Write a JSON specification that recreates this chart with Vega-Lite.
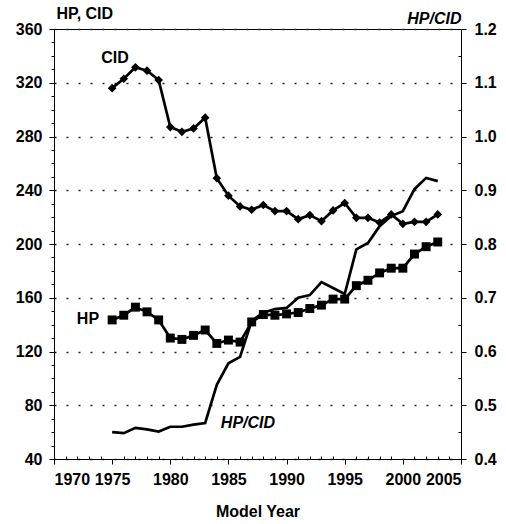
{
  "$schema": "https://vega.github.io/schema/vega-lite/v6.json",
  "width": 407,
  "height": 430,
  "autosize": "none",
  "padding": {"left": 54, "top": 29, "right": 45, "bottom": 65},
  "background": "white",
  "config": {
    "view": {"stroke": "black", "strokeWidth": 1},
    "font": "Liberation Sans",
    "axis": {"domainColor": "black", "tickColor": "black", "labelColor": "black", "titleColor": "black", "labelFont": "Liberation Sans", "titleFont": "Liberation Sans", "labelFontWeight": "bold", "titleFontWeight": "bold", "labelFontSize": 16, "titleFontSize": 16}
  },
  "datasets": {
    "series": [
      {"year": 1975, "CID": 316, "HP": 143.5, "ratio": 0.45},
      {"year": 1976, "CID": 323, "HP": 147, "ratio": 0.448},
      {"year": 1977, "CID": 331.5, "HP": 153, "ratio": 0.458},
      {"year": 1978, "CID": 329, "HP": 149.5, "ratio": 0.455},
      {"year": 1979, "CID": 322, "HP": 143.5, "ratio": 0.451},
      {"year": 1980, "CID": 287, "HP": 130, "ratio": 0.46},
      {"year": 1981, "CID": 283.5, "HP": 129, "ratio": 0.46},
      {"year": 1982, "CID": 286, "HP": 132, "ratio": 0.464},
      {"year": 1983, "CID": 294, "HP": 136, "ratio": 0.467},
      {"year": 1984, "CID": 249, "HP": 126, "ratio": 0.538},
      {"year": 1985, "CID": 236, "HP": 128.5, "ratio": 0.578},
      {"year": 1986, "CID": 228, "HP": 127, "ratio": 0.59},
      {"year": 1987, "CID": 225.5, "HP": 142, "ratio": 0.657},
      {"year": 1988, "CID": 229, "HP": 147.5, "ratio": 0.672},
      {"year": 1989, "CID": 224.5, "HP": 147, "ratio": 0.679},
      {"year": 1990, "CID": 224.5, "HP": 148, "ratio": 0.681},
      {"year": 1991, "CID": 218.5, "HP": 149, "ratio": 0.7},
      {"year": 1992, "CID": 221.5, "HP": 152, "ratio": 0.705},
      {"year": 1993, "CID": 217, "HP": 154.5, "ratio": 0.729},
      {"year": 1994, "CID": 225, "HP": 159, "ratio": 0.718},
      {"year": 1995, "CID": 230.5, "HP": 159, "ratio": 0.707},
      {"year": 1996, "CID": 219.5, "HP": 169, "ratio": 0.79},
      {"year": 1997, "CID": 219.5, "HP": 173, "ratio": 0.802},
      {"year": 1998, "CID": 216, "HP": 178.5, "ratio": 0.833},
      {"year": 1999, "CID": 222, "HP": 182, "ratio": 0.852},
      {"year": 2000, "CID": 215, "HP": 182, "ratio": 0.861},
      {"year": 2001, "CID": 216.5, "HP": 192.5, "ratio": 0.902},
      {"year": 2002, "CID": 216.5, "HP": 198, "ratio": 0.923},
      {"year": 2003, "CID": 222, "HP": 201.5, "ratio": 0.917}
    ],
    "labels": [
      {"label": "CID", "year": 1975.24, "value": 338.4},
      {"label": "HP", "year": 1972.92, "value": 144.2}
    ],
    "italicLabels": [
      {"label": "HP/CID", "year": 1986.68, "value": 66.8}
    ]
  },
  "data": {"name": "series"},
  "resolve": {"scale": {"y": "independent", "x": "independent"}, "axis": {"y": "independent", "x": "independent"}},
  "layer": [
    {
      "mark": {"type": "line", "color": "black", "strokeWidth": 2.7},
      "encoding": {
        "x": {"field": "year", "type": "quantitative", "scale": {"domain": [1970, 2005], "nice": false, "zero": false},
          "axis": {"orient": "bottom", "values": [1970, 1975, 1980, 1985, 1990, 1995, 2000, 2005], "format": "d", "tickSize": 5, "labelPadding": 7, "title": "Model Year", "titleFontSize": 16, "titlePadding": 16, "grid": false, "domain": true}},
        "y": {"field": "CID", "type": "quantitative", "scale": {"domain": [40, 360], "nice": false, "zero": false},
          "axis": {"orient": "left", "values": [40, 80, 120, 160, 200, 240, 280, 320, 360], "tickSize": 5, "labelPadding": 7, "grid": true, "gridDash": [2, 10], "gridColor": "#222", "gridWidth": 1.3, "title": "HP, CID", "titleAngle": 0, "titleAlign": "left", "titleBaseline": "alphabetic", "titleX": 2, "titleY": -11}}
      }
    },
    {
      "mark": {"type": "point", "shape": "diamond", "filled": true, "color": "black", "size": 75, "opacity": 1},
      "encoding": {
        "x": {"field": "year", "type": "quantitative", "scale": {"domain": [1970, 2005], "nice": false, "zero": false},
          "axis": {"orient": "bottom", "values": [1971, 1972, 1973, 1974, 1976, 1977, 1978, 1979, 1981, 1982, 1983, 1984, 1986, 1987, 1988, 1989, 1991, 1992, 1993, 1994, 1996, 1997, 1998, 1999, 2001, 2002, 2003, 2004], "tickSize": -3, "labels": false, "domain": false, "grid": false, "title": null}},
        "y": {"field": "CID", "type": "quantitative", "scale": {"domain": [40, 360], "nice": false, "zero": false},
          "axis": {"orient": "left", "values": [50, 60, 70, 90, 100, 110, 130, 140, 150, 170, 180, 190, 210, 220, 230, 250, 260, 270, 290, 300, 310, 330, 340, 350], "tickSize": 3, "labels": false, "domain": false, "grid": false, "title": null}}
      }
    },
    {
      "mark": {"type": "line", "color": "black", "strokeWidth": 2.7},
      "encoding": {
        "x": {"field": "year", "type": "quantitative", "scale": {"domain": [1970, 2005], "nice": false, "zero": false}, "axis": null},
        "y": {"field": "HP", "type": "quantitative", "scale": {"domain": [40, 360], "nice": false, "zero": false}, "axis": null}
      }
    },
    {
      "mark": {"type": "point", "shape": "square", "filled": true, "color": "black", "size": 80, "opacity": 1},
      "encoding": {
        "x": {"field": "year", "type": "quantitative", "scale": {"domain": [1970, 2005], "nice": false, "zero": false}, "axis": null},
        "y": {"field": "HP", "type": "quantitative", "scale": {"domain": [40, 360], "nice": false, "zero": false}, "axis": null}
      }
    },
    {
      "mark": {"type": "line", "color": "black", "strokeWidth": 2.7},
      "encoding": {
        "x": {"field": "year", "type": "quantitative", "scale": {"domain": [1970, 2005], "nice": false, "zero": false}, "axis": null},
        "y": {"field": "ratio", "type": "quantitative", "scale": {"domain": [0.4, 1.2], "nice": false, "zero": false},
          "axis": {"orient": "right", "values": [0.4, 0.5, 0.6, 0.7, 0.8, 0.9, 1.0, 1.1, 1.2], "format": ".1f", "tickSize": 5, "labelPadding": 8, "grid": false, "title": "HP/CID", "titleFontStyle": "italic", "titleAngle": 0, "titleAlign": "right", "titleBaseline": "alphabetic", "titleX": 0, "titleY": -6}}
      }
    },
    {
      "mark": {"type": "point", "opacity": 0},
      "encoding": {
        "x": {"field": "year", "type": "quantitative", "scale": {"domain": [1970, 2005], "nice": false, "zero": false}, "axis": null},
        "y": {"field": "ratio", "type": "quantitative", "scale": {"domain": [0.4, 1.2], "nice": false, "zero": false},
          "axis": {"orient": "right", "values": [0.45, 0.55, 0.65, 0.75, 0.85, 0.95, 1.05, 1.15], "tickSize": -3, "labels": false, "domain": false, "grid": false, "title": null}}
      }
    },
    {
      "data": {"name": "labels"},
      "mark": {"type": "text", "color": "black", "fontWeight": "bold", "fontSize": 16, "font": "Liberation Sans", "align": "center", "baseline": "middle"},
      "encoding": {
        "x": {"field": "year", "type": "quantitative", "scale": {"domain": [1970, 2005], "nice": false, "zero": false}, "axis": null},
        "y": {"field": "value", "type": "quantitative", "scale": {"domain": [40, 360], "nice": false, "zero": false}, "axis": null},
        "text": {"field": "label"}
      }
    },
    {
      "data": {"name": "italicLabels"},
      "mark": {"type": "text", "color": "black", "fontWeight": "bold", "fontStyle": "italic", "fontSize": 16, "font": "Liberation Sans", "align": "center", "baseline": "middle"},
      "encoding": {
        "x": {"field": "year", "type": "quantitative", "scale": {"domain": [1970, 2005], "nice": false, "zero": false}, "axis": null},
        "y": {"field": "value", "type": "quantitative", "scale": {"domain": [40, 360], "nice": false, "zero": false}, "axis": null},
        "text": {"field": "label"}
      }
    }
  ]
}
